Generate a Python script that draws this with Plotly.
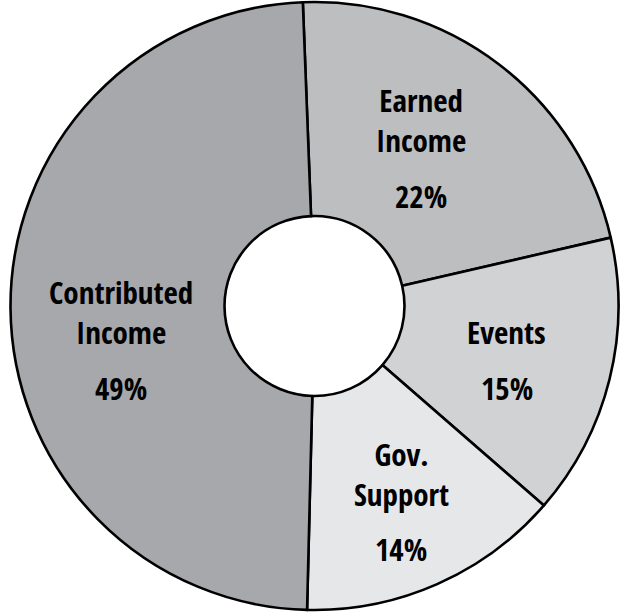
import math
import plotly.graph_objects as go

# ---- data ----
names = ["Earned<br>Income", "Events", "Gov.<br>Support", "Contributed<br>Income"]
values = [22, 15, 14, 49]
colors = ["#bdbec0", "#d1d2d4", "#e6e7e8", "#a7a8ab"]

# ---- layout / style constants ----
W, H = 624, 613
ML, MR, MT, MB = 5, 0, 2, 3
ROT = -2.2
HOLE = 0.296
FS = 31
LS = 1.3 * FS
FONT = "Open Sans Condensed, Roboto Condensed, DejaVu Sans Condensed, sans-serif"
LABEL_R = 200  # px from centre
NUDGE = [(-15, 1.5), (-2, 6), (6, 13), (6.5, 33)]  # per-label pixel nudges

pw, ph = W - ML - MR, H - MT - MB
R = min(pw, ph) / 2
cx, cy = ML + pw / 2, MT + ph / 2


def to_paper(px, py):
    return (px - ML) / pw, (H - MB - py) / ph


fig = go.Figure(go.Pie(
    values=values,
    labels=[n.replace("<br>", " ") for n in names],
    sort=False,
    direction="clockwise",
    rotation=ROT,
    hole=HOLE,
    marker=dict(colors=colors, line=dict(color="black", width=2.6)),
    textinfo="none",
    hoverinfo="skip",
    showlegend=False,
))

total = sum(values)
cum = 0
annotations = []
for i, (n, v) in enumerate(zip(names, values)):
    mid = ROT + 360 * (cum + v / 2) / total
    cum += v
    a = math.radians(mid)
    bx = cx + LABEL_R * math.sin(a) + NUDGE[i][0]
    by = cy - LABEL_R * math.cos(a) + NUDGE[i][1]
    nlines = n.count("<br>") + 1
    height = (nlines - 1) * 39 + 25 + 28 + 27
    top = by - height / 2
    base = top + (nlines - 1) * 39 + 25
    pc = base + 43
    x1, y1 = to_paper(bx, base + 0.293 * FS + 1)
    annotations.append(dict(
        x=x1, y=y1, xref="paper", yref="paper", xanchor="center", yanchor="bottom",
        text=n, showarrow=False, align="center",
        font=dict(family=FONT, size=FS, color="black", weight=800),
    ))
    x2, y2 = to_paper(bx, pc)
    annotations.append(dict(
        x=x2, y=y2, xref="paper", yref="paper", xanchor="center", yanchor="middle",
        text=f"{v}%", showarrow=False,
        font=dict(family=FONT, size=FS, color="black", weight=800),
    ))

fig.update_layout(
    width=W, height=H,
    margin=dict(l=ML, r=MR, t=MT, b=MB),
    paper_bgcolor="white", plot_bgcolor="white",
    annotations=annotations,
)

fig.write_html("out.html")
